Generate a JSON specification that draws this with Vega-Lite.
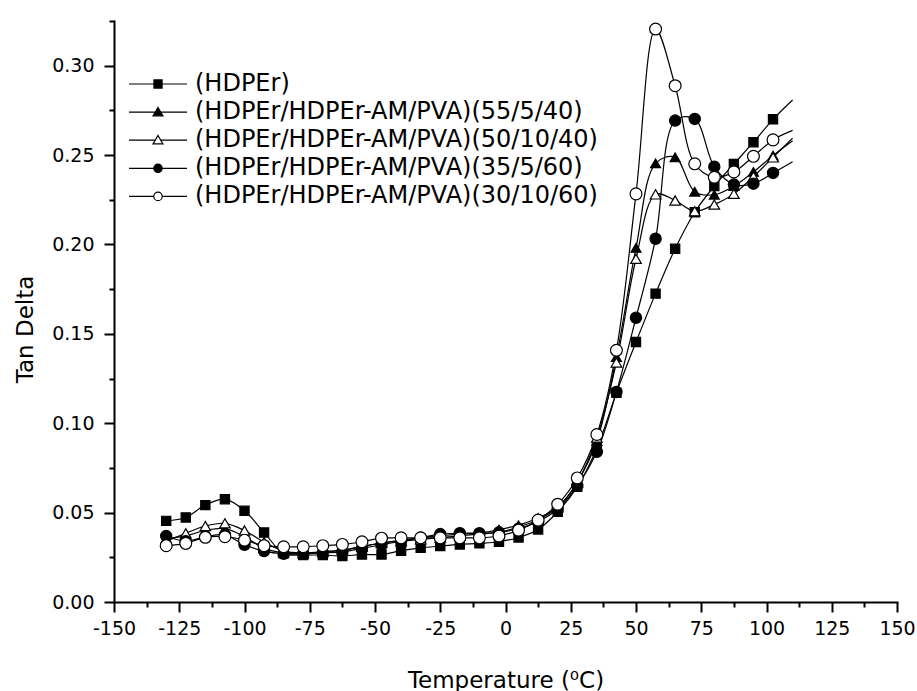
{
  "$schema": "https://vega.github.io/schema/vega-lite/v6.json",
  "width": 783,
  "height": 581,
  "autosize": {"type": "none"},
  "padding": {"left": 114, "top": 21, "right": 20, "bottom": 89},
  "background": "white",
  "config": {
    "view": {"stroke": null},
    "axis": {
      "grid": false,
      "domainColor": "black",
      "domainWidth": 2,
      "domainCap": "square",
      "tickColor": "black",
      "tickWidth": 2,
      "labelColor": "black",
      "labelFont": "DejaVu Sans",
      "labelFontSize": 19,
      "labelFlush": false,
      "labelOverlap": false,
      "titleColor": "black",
      "titleFont": "DejaVu Sans",
      "titleFontSize": 23,
      "titleFontWeight": "normal"
    },
    "legend": {
      "labelFont": "DejaVu Sans",
      "labelFontSize": 24,
      "labelColor": "black",
      "labelLimit": 800,
      "symbolSize": 3364,
      "symbolStrokeColor": "black",
      "symbolStrokeWidth": 1.2,
      "symbolOpacity": 1,
      "clipHeight": 26,
      "rowPadding": 2.1,
      "labelOffset": 7,
      "padding": 0
    }
  },
  "data": {
    "values": [
      {"s": "(HDPEr)", "t": -130, "v": 0.0454},
      {"s": "(HDPEr)", "t": -122.5, "v": 0.0473},
      {"s": "(HDPEr)", "t": -115, "v": 0.0542},
      {"s": "(HDPEr)", "t": -107.5, "v": 0.0575},
      {"s": "(HDPEr)", "t": -100, "v": 0.051},
      {"s": "(HDPEr)", "t": -92.5, "v": 0.0389},
      {"s": "(HDPEr)", "t": -85, "v": 0.0272},
      {"s": "(HDPEr)", "t": -77.5, "v": 0.0263},
      {"s": "(HDPEr)", "t": -70, "v": 0.0263},
      {"s": "(HDPEr)", "t": -62.5, "v": 0.0257},
      {"s": "(HDPEr)", "t": -55, "v": 0.0266},
      {"s": "(HDPEr)", "t": -47.5, "v": 0.0266},
      {"s": "(HDPEr)", "t": -40, "v": 0.0287},
      {"s": "(HDPEr)", "t": -32.5, "v": 0.0303},
      {"s": "(HDPEr)", "t": -25, "v": 0.0313},
      {"s": "(HDPEr)", "t": -17.5, "v": 0.0322},
      {"s": "(HDPEr)", "t": -10, "v": 0.0328},
      {"s": "(HDPEr)", "t": -2.5, "v": 0.0337},
      {"s": "(HDPEr)", "t": 5, "v": 0.0361},
      {"s": "(HDPEr)", "t": 12.5, "v": 0.0406},
      {"s": "(HDPEr)", "t": 20, "v": 0.0505},
      {"s": "(HDPEr)", "t": 27.5, "v": 0.0644},
      {"s": "(HDPEr)", "t": 35, "v": 0.086},
      {"s": "(HDPEr)", "t": 42.5, "v": 0.117},
      {"s": "(HDPEr)", "t": 50, "v": 0.1454},
      {"s": "(HDPEr)", "t": 57.5, "v": 0.1725},
      {"s": "(HDPEr)", "t": 65, "v": 0.1976},
      {"s": "(HDPEr)", "t": 72.5, "v": 0.218},
      {"s": "(HDPEr)", "t": 80, "v": 0.2327},
      {"s": "(HDPEr)", "t": 87.5, "v": 0.245},
      {"s": "(HDPEr)", "t": 95, "v": 0.2572},
      {"s": "(HDPEr)", "t": 102.5, "v": 0.27},
      {"s": "(HDPEr)", "t": 110, "v": 0.2808},

      {"s": "(HDPEr/HDPEr-AM/PVA)(55/5/40)", "t": -130, "v": 0.0355},
      {"s": "(HDPEr/HDPEr-AM/PVA)(55/5/40)", "t": -122.5, "v": 0.037},
      {"s": "(HDPEr/HDPEr-AM/PVA)(55/5/40)", "t": -115, "v": 0.04},
      {"s": "(HDPEr/HDPEr-AM/PVA)(55/5/40)", "t": -107.5, "v": 0.041},
      {"s": "(HDPEr/HDPEr-AM/PVA)(55/5/40)", "t": -100, "v": 0.0365},
      {"s": "(HDPEr/HDPEr-AM/PVA)(55/5/40)", "t": -92.5, "v": 0.03},
      {"s": "(HDPEr/HDPEr-AM/PVA)(55/5/40)", "t": -85, "v": 0.0275},
      {"s": "(HDPEr/HDPEr-AM/PVA)(55/5/40)", "t": -77.5, "v": 0.027},
      {"s": "(HDPEr/HDPEr-AM/PVA)(55/5/40)", "t": -70, "v": 0.028},
      {"s": "(HDPEr/HDPEr-AM/PVA)(55/5/40)", "t": -62.5, "v": 0.029},
      {"s": "(HDPEr/HDPEr-AM/PVA)(55/5/40)", "t": -55, "v": 0.031},
      {"s": "(HDPEr/HDPEr-AM/PVA)(55/5/40)", "t": -47.5, "v": 0.033},
      {"s": "(HDPEr/HDPEr-AM/PVA)(55/5/40)", "t": -40, "v": 0.0345},
      {"s": "(HDPEr/HDPEr-AM/PVA)(55/5/40)", "t": -32.5, "v": 0.036},
      {"s": "(HDPEr/HDPEr-AM/PVA)(55/5/40)", "t": -25, "v": 0.037},
      {"s": "(HDPEr/HDPEr-AM/PVA)(55/5/40)", "t": -17.5, "v": 0.038},
      {"s": "(HDPEr/HDPEr-AM/PVA)(55/5/40)", "t": -10, "v": 0.0385},
      {"s": "(HDPEr/HDPEr-AM/PVA)(55/5/40)", "t": -2.5, "v": 0.0405},
      {"s": "(HDPEr/HDPEr-AM/PVA)(55/5/40)", "t": 5, "v": 0.043},
      {"s": "(HDPEr/HDPEr-AM/PVA)(55/5/40)", "t": 12.5, "v": 0.047},
      {"s": "(HDPEr/HDPEr-AM/PVA)(55/5/40)", "t": 20, "v": 0.053},
      {"s": "(HDPEr/HDPEr-AM/PVA)(55/5/40)", "t": 27.5, "v": 0.067},
      {"s": "(HDPEr/HDPEr-AM/PVA)(55/5/40)", "t": 35, "v": 0.09},
      {"s": "(HDPEr/HDPEr-AM/PVA)(55/5/40)", "t": 42.5, "v": 0.137},
      {"s": "(HDPEr/HDPEr-AM/PVA)(55/5/40)", "t": 50, "v": 0.1981},
      {"s": "(HDPEr/HDPEr-AM/PVA)(55/5/40)", "t": 57.5, "v": 0.2454},
      {"s": "(HDPEr/HDPEr-AM/PVA)(55/5/40)", "t": 65, "v": 0.2488},
      {"s": "(HDPEr/HDPEr-AM/PVA)(55/5/40)", "t": 72.5, "v": 0.2295},
      {"s": "(HDPEr/HDPEr-AM/PVA)(55/5/40)", "t": 80, "v": 0.2278},
      {"s": "(HDPEr/HDPEr-AM/PVA)(55/5/40)", "t": 87.5, "v": 0.2327},
      {"s": "(HDPEr/HDPEr-AM/PVA)(55/5/40)", "t": 95, "v": 0.2406},
      {"s": "(HDPEr/HDPEr-AM/PVA)(55/5/40)", "t": 102.5, "v": 0.2497},
      {"s": "(HDPEr/HDPEr-AM/PVA)(55/5/40)", "t": 110, "v": 0.258},

      {"s": "(HDPEr/HDPEr-AM/PVA)(50/10/40)", "t": -130, "v": 0.034},
      {"s": "(HDPEr/HDPEr-AM/PVA)(50/10/40)", "t": -122.5, "v": 0.0384},
      {"s": "(HDPEr/HDPEr-AM/PVA)(50/10/40)", "t": -115, "v": 0.0425},
      {"s": "(HDPEr/HDPEr-AM/PVA)(50/10/40)", "t": -107.5, "v": 0.044},
      {"s": "(HDPEr/HDPEr-AM/PVA)(50/10/40)", "t": -100, "v": 0.04},
      {"s": "(HDPEr/HDPEr-AM/PVA)(50/10/40)", "t": -92.5, "v": 0.0335},
      {"s": "(HDPEr/HDPEr-AM/PVA)(50/10/40)", "t": -85, "v": 0.0285},
      {"s": "(HDPEr/HDPEr-AM/PVA)(50/10/40)", "t": -77.5, "v": 0.0275},
      {"s": "(HDPEr/HDPEr-AM/PVA)(50/10/40)", "t": -70, "v": 0.028},
      {"s": "(HDPEr/HDPEr-AM/PVA)(50/10/40)", "t": -62.5, "v": 0.029},
      {"s": "(HDPEr/HDPEr-AM/PVA)(50/10/40)", "t": -55, "v": 0.031},
      {"s": "(HDPEr/HDPEr-AM/PVA)(50/10/40)", "t": -47.5, "v": 0.033},
      {"s": "(HDPEr/HDPEr-AM/PVA)(50/10/40)", "t": -40, "v": 0.034},
      {"s": "(HDPEr/HDPEr-AM/PVA)(50/10/40)", "t": -32.5, "v": 0.035},
      {"s": "(HDPEr/HDPEr-AM/PVA)(50/10/40)", "t": -25, "v": 0.036},
      {"s": "(HDPEr/HDPEr-AM/PVA)(50/10/40)", "t": -17.5, "v": 0.037},
      {"s": "(HDPEr/HDPEr-AM/PVA)(50/10/40)", "t": -10, "v": 0.038},
      {"s": "(HDPEr/HDPEr-AM/PVA)(50/10/40)", "t": -2.5, "v": 0.039},
      {"s": "(HDPEr/HDPEr-AM/PVA)(50/10/40)", "t": 5, "v": 0.042},
      {"s": "(HDPEr/HDPEr-AM/PVA)(50/10/40)", "t": 12.5, "v": 0.046},
      {"s": "(HDPEr/HDPEr-AM/PVA)(50/10/40)", "t": 20, "v": 0.053},
      {"s": "(HDPEr/HDPEr-AM/PVA)(50/10/40)", "t": 27.5, "v": 0.067},
      {"s": "(HDPEr/HDPEr-AM/PVA)(50/10/40)", "t": 35, "v": 0.092},
      {"s": "(HDPEr/HDPEr-AM/PVA)(50/10/40)", "t": 42.5, "v": 0.134},
      {"s": "(HDPEr/HDPEr-AM/PVA)(50/10/40)", "t": 50, "v": 0.192},
      {"s": "(HDPEr/HDPEr-AM/PVA)(50/10/40)", "t": 57.5, "v": 0.228},
      {"s": "(HDPEr/HDPEr-AM/PVA)(50/10/40)", "t": 65, "v": 0.2246},
      {"s": "(HDPEr/HDPEr-AM/PVA)(50/10/40)", "t": 72.5, "v": 0.2186},
      {"s": "(HDPEr/HDPEr-AM/PVA)(50/10/40)", "t": 80, "v": 0.2223},
      {"s": "(HDPEr/HDPEr-AM/PVA)(50/10/40)", "t": 87.5, "v": 0.2283},
      {"s": "(HDPEr/HDPEr-AM/PVA)(50/10/40)", "t": 95, "v": 0.238},
      {"s": "(HDPEr/HDPEr-AM/PVA)(50/10/40)", "t": 102.5, "v": 0.2487},
      {"s": "(HDPEr/HDPEr-AM/PVA)(50/10/40)", "t": 110, "v": 0.2595},

      {"s": "(HDPEr/HDPEr-AM/PVA)(35/5/60)", "t": -130, "v": 0.0369},
      {"s": "(HDPEr/HDPEr-AM/PVA)(35/5/60)", "t": -122.5, "v": 0.034},
      {"s": "(HDPEr/HDPEr-AM/PVA)(35/5/60)", "t": -115, "v": 0.0365},
      {"s": "(HDPEr/HDPEr-AM/PVA)(35/5/60)", "t": -107.5, "v": 0.0375},
      {"s": "(HDPEr/HDPEr-AM/PVA)(35/5/60)", "t": -100, "v": 0.032},
      {"s": "(HDPEr/HDPEr-AM/PVA)(35/5/60)", "t": -92.5, "v": 0.0285},
      {"s": "(HDPEr/HDPEr-AM/PVA)(35/5/60)", "t": -85, "v": 0.027},
      {"s": "(HDPEr/HDPEr-AM/PVA)(35/5/60)", "t": -77.5, "v": 0.027},
      {"s": "(HDPEr/HDPEr-AM/PVA)(35/5/60)", "t": -70, "v": 0.0275},
      {"s": "(HDPEr/HDPEr-AM/PVA)(35/5/60)", "t": -62.5, "v": 0.028},
      {"s": "(HDPEr/HDPEr-AM/PVA)(35/5/60)", "t": -55, "v": 0.03},
      {"s": "(HDPEr/HDPEr-AM/PVA)(35/5/60)", "t": -47.5, "v": 0.032},
      {"s": "(HDPEr/HDPEr-AM/PVA)(35/5/60)", "t": -40, "v": 0.034},
      {"s": "(HDPEr/HDPEr-AM/PVA)(35/5/60)", "t": -32.5, "v": 0.036},
      {"s": "(HDPEr/HDPEr-AM/PVA)(35/5/60)", "t": -25, "v": 0.038},
      {"s": "(HDPEr/HDPEr-AM/PVA)(35/5/60)", "t": -17.5, "v": 0.0385},
      {"s": "(HDPEr/HDPEr-AM/PVA)(35/5/60)", "t": -10, "v": 0.0385},
      {"s": "(HDPEr/HDPEr-AM/PVA)(35/5/60)", "t": -2.5, "v": 0.039},
      {"s": "(HDPEr/HDPEr-AM/PVA)(35/5/60)", "t": 5, "v": 0.041},
      {"s": "(HDPEr/HDPEr-AM/PVA)(35/5/60)", "t": 12.5, "v": 0.045},
      {"s": "(HDPEr/HDPEr-AM/PVA)(35/5/60)", "t": 20, "v": 0.052},
      {"s": "(HDPEr/HDPEr-AM/PVA)(35/5/60)", "t": 27.5, "v": 0.065},
      {"s": "(HDPEr/HDPEr-AM/PVA)(35/5/60)", "t": 35, "v": 0.084},
      {"s": "(HDPEr/HDPEr-AM/PVA)(35/5/60)", "t": 42.5, "v": 0.1175},
      {"s": "(HDPEr/HDPEr-AM/PVA)(35/5/60)", "t": 50, "v": 0.159},
      {"s": "(HDPEr/HDPEr-AM/PVA)(35/5/60)", "t": 57.5, "v": 0.2032},
      {"s": "(HDPEr/HDPEr-AM/PVA)(35/5/60)", "t": 65, "v": 0.2693},
      {"s": "(HDPEr/HDPEr-AM/PVA)(35/5/60)", "t": 72.5, "v": 0.2702},
      {"s": "(HDPEr/HDPEr-AM/PVA)(35/5/60)", "t": 80, "v": 0.2435},
      {"s": "(HDPEr/HDPEr-AM/PVA)(35/5/60)", "t": 87.5, "v": 0.2335},
      {"s": "(HDPEr/HDPEr-AM/PVA)(35/5/60)", "t": 95, "v": 0.234},
      {"s": "(HDPEr/HDPEr-AM/PVA)(35/5/60)", "t": 102.5, "v": 0.24},
      {"s": "(HDPEr/HDPEr-AM/PVA)(35/5/60)", "t": 110, "v": 0.2463},

      {"s": "(HDPEr/HDPEr-AM/PVA)(30/10/60)", "t": -130, "v": 0.0315},
      {"s": "(HDPEr/HDPEr-AM/PVA)(30/10/60)", "t": -122.5, "v": 0.0328},
      {"s": "(HDPEr/HDPEr-AM/PVA)(30/10/60)", "t": -115, "v": 0.0362},
      {"s": "(HDPEr/HDPEr-AM/PVA)(30/10/60)", "t": -107.5, "v": 0.0365},
      {"s": "(HDPEr/HDPEr-AM/PVA)(30/10/60)", "t": -100, "v": 0.0346},
      {"s": "(HDPEr/HDPEr-AM/PVA)(30/10/60)", "t": -92.5, "v": 0.0315},
      {"s": "(HDPEr/HDPEr-AM/PVA)(30/10/60)", "t": -85, "v": 0.0309},
      {"s": "(HDPEr/HDPEr-AM/PVA)(30/10/60)", "t": -77.5, "v": 0.0309},
      {"s": "(HDPEr/HDPEr-AM/PVA)(30/10/60)", "t": -70, "v": 0.0315},
      {"s": "(HDPEr/HDPEr-AM/PVA)(30/10/60)", "t": -62.5, "v": 0.0322},
      {"s": "(HDPEr/HDPEr-AM/PVA)(30/10/60)", "t": -55, "v": 0.0337},
      {"s": "(HDPEr/HDPEr-AM/PVA)(30/10/60)", "t": -47.5, "v": 0.0357},
      {"s": "(HDPEr/HDPEr-AM/PVA)(30/10/60)", "t": -40, "v": 0.0359},
      {"s": "(HDPEr/HDPEr-AM/PVA)(30/10/60)", "t": -32.5, "v": 0.0359},
      {"s": "(HDPEr/HDPEr-AM/PVA)(30/10/60)", "t": -25, "v": 0.0359},
      {"s": "(HDPEr/HDPEr-AM/PVA)(30/10/60)", "t": -17.5, "v": 0.0359},
      {"s": "(HDPEr/HDPEr-AM/PVA)(30/10/60)", "t": -10, "v": 0.0359},
      {"s": "(HDPEr/HDPEr-AM/PVA)(30/10/60)", "t": -2.5, "v": 0.0369},
      {"s": "(HDPEr/HDPEr-AM/PVA)(30/10/60)", "t": 5, "v": 0.0402},
      {"s": "(HDPEr/HDPEr-AM/PVA)(30/10/60)", "t": 12.5, "v": 0.0458},
      {"s": "(HDPEr/HDPEr-AM/PVA)(30/10/60)", "t": 20, "v": 0.0547},
      {"s": "(HDPEr/HDPEr-AM/PVA)(30/10/60)", "t": 27.5, "v": 0.0694},
      {"s": "(HDPEr/HDPEr-AM/PVA)(30/10/60)", "t": 35, "v": 0.0937},
      {"s": "(HDPEr/HDPEr-AM/PVA)(30/10/60)", "t": 42.5, "v": 0.1408},
      {"s": "(HDPEr/HDPEr-AM/PVA)(30/10/60)", "t": 50, "v": 0.2283},
      {"s": "(HDPEr/HDPEr-AM/PVA)(30/10/60)", "t": 57.5, "v": 0.3205},
      {"s": "(HDPEr/HDPEr-AM/PVA)(30/10/60)", "t": 65, "v": 0.2888},
      {"s": "(HDPEr/HDPEr-AM/PVA)(30/10/60)", "t": 72.5, "v": 0.2451},
      {"s": "(HDPEr/HDPEr-AM/PVA)(30/10/60)", "t": 80, "v": 0.2376},
      {"s": "(HDPEr/HDPEr-AM/PVA)(30/10/60)", "t": 87.5, "v": 0.2406},
      {"s": "(HDPEr/HDPEr-AM/PVA)(30/10/60)", "t": 95, "v": 0.2493},
      {"s": "(HDPEr/HDPEr-AM/PVA)(30/10/60)", "t": 102.5, "v": 0.2585},
      {"s": "(HDPEr/HDPEr-AM/PVA)(30/10/60)", "t": 110, "v": 0.2638}
    ]
  },
  "encoding": {
    "x": {
      "field": "t",
      "type": "quantitative",
      "title": "Temperature (⁰C)",
      "scale": {"domain": [-150, 150], "nice": false, "zero": false},
      "axis": {
        "values": [-150, -137.5, -125, -112.5, -100, -87.5, -75, -62.5, -50, -37.5, -25, -12.5, 0, 12.5, 25, 37.5, 50, 62.5, 75, 87.5, 100, 112.5, 125, 137.5, 150],
        "labelExpr": "datum.value % 25 == 0 ? '' + datum.value : ''",
        "tickSize": {"condition": {"test": "datum.value % 25 != 0", "value": 5}, "value": 10},
        "labelPadding": 7,
        "titleBaseline": "alphabetic",
        "titleY": 85
      }
    },
    "y": {
      "field": "v",
      "type": "quantitative",
      "title": "Tan Delta",
      "scale": {"domain": [0, 0.325], "nice": false, "zero": true},
      "axis": {
        "values": [0, 0.025, 0.05, 0.075, 0.1, 0.125, 0.15, 0.175, 0.2, 0.225, 0.25, 0.275, 0.3, 0.325],
        "labelExpr": "round(datum.value * 1000) % 50 == 0 ? format(datum.value, '.2f') : ''",
        "tickSize": {"condition": {"test": "round(datum.value * 1000) % 50 != 0", "value": 5}, "value": 10},
        "labelPadding": 10,
        "titleBaseline": "alphabetic",
        "titleAngle": -90,
        "titleAlign": "center",
        "titleX": -82,
        "titleY": 308
      }
    }
  },
  "layer": [
    {
      "mark": {"type": "line", "interpolate": "catmull-rom", "stroke": "black", "strokeWidth": 1.2},
      "encoding": {"detail": {"field": "s", "type": "nominal"}}
    },
    {
      "transform": [{"filter": "datum.t < 105"}],
      "mark": {"type": "point", "filled": true, "stroke": "black", "strokeWidth": 1.2, "opacity": 1},
      "encoding": {
        "shape": {"field": "s", "type": "nominal", "legend": null,
          "scale": {"domain": ["(HDPEr)", "(HDPEr/HDPEr-AM/PVA)(55/5/40)", "(HDPEr/HDPEr-AM/PVA)(50/10/40)", "(HDPEr/HDPEr-AM/PVA)(35/5/60)", "(HDPEr/HDPEr-AM/PVA)(30/10/60)"],
                    "range": ["square", "triangle-up", "triangle-up", "circle", "circle"]}},
        "fill": {"field": "s", "type": "nominal", "legend": null,
          "scale": {"domain": ["(HDPEr)", "(HDPEr/HDPEr-AM/PVA)(55/5/40)", "(HDPEr/HDPEr-AM/PVA)(50/10/40)", "(HDPEr/HDPEr-AM/PVA)(35/5/60)", "(HDPEr/HDPEr-AM/PVA)(30/10/60)"],
                    "range": ["black", "black", "white", "black", "white"]}},
        "size": {"field": "s", "type": "nominal", "legend": null,
          "scale": {"domain": ["(HDPEr)", "(HDPEr/HDPEr-AM/PVA)(55/5/40)", "(HDPEr/HDPEr-AM/PVA)(50/10/40)", "(HDPEr/HDPEr-AM/PVA)(35/5/60)", "(HDPEr/HDPEr-AM/PVA)(30/10/60)"],
                    "range": [85, 140, 140, 115, 115]}}
      }
    },
    {
      "transform": [{"filter": "datum.t == -130"}],
      "mark": {"type": "point", "filled": true, "stroke": "black", "strokeWidth": 1.2, "opacity": 0, "size": 3364},
      "encoding": {
        "shape": {"field": "s", "type": "nominal",
          "legend": {"orient": "none", "legendX": 14, "legendY": 50, "title": null,
            "encode": {"symbols": {"update": {"stroke": {"value": "black"}, "strokeWidth": {"value": 1.2}, "opacity": {"value": 1}}}}},
          "scale": {"domain": ["(HDPEr)", "(HDPEr/HDPEr-AM/PVA)(55/5/40)", "(HDPEr/HDPEr-AM/PVA)(50/10/40)", "(HDPEr/HDPEr-AM/PVA)(35/5/60)", "(HDPEr/HDPEr-AM/PVA)(30/10/60)"],
                    "range": [
                      "M-1,0H-0.14M0.14,0H1M-0.14,-0.14H0.14V0.14H-0.14Z",
                      "M-1,0H-0.094M0.094,0H1M0,-0.16L0.17,0.13L-0.17,0.13Z",
                      "M-1,0H-0.094M0.094,0H1M0,-0.16L0.17,0.13L-0.17,0.13Z",
                      "M-1,0H-0.145M0.145,0H1M-0.145,0A0.145,0.145,0,1,0,0.145,0A0.145,0.145,0,1,0,-0.145,0Z",
                      "M-1,0H-0.145M0.145,0H1M-0.145,0A0.145,0.145,0,1,0,0.145,0A0.145,0.145,0,1,0,-0.145,0Z"
                    ]}},
        "fill": {"field": "s", "type": "nominal",
          "legend": {"orient": "none", "legendX": 14, "legendY": 50, "title": null,
            "encode": {"symbols": {"update": {"stroke": {"value": "black"}, "strokeWidth": {"value": 1.2}, "opacity": {"value": 1}}}}},
          "scale": {"domain": ["(HDPEr)", "(HDPEr/HDPEr-AM/PVA)(55/5/40)", "(HDPEr/HDPEr-AM/PVA)(50/10/40)", "(HDPEr/HDPEr-AM/PVA)(35/5/60)", "(HDPEr/HDPEr-AM/PVA)(30/10/60)"],
                    "range": ["black", "black", "white", "black", "white"]}}
      }
    }
  ],
  "resolve": {"scale": {"shape": "independent", "fill": "independent", "size": "independent"}}
}
